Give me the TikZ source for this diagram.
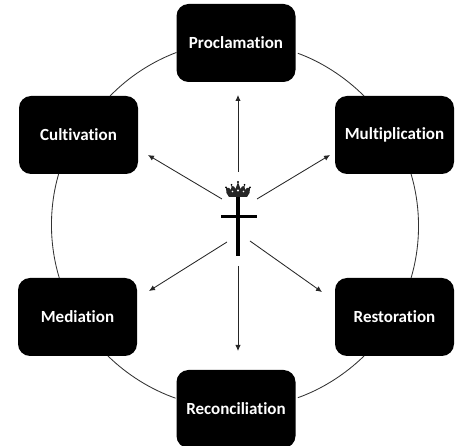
\documentclass[tikz,border=0pt]{standalone}
\usepackage{fontspec}
\setmainfont[Ligatures=NoCommon]{Carlito}
\usetikzlibrary{arrows.meta}
\tikzset{
  stage/.style={draw=none,fill=black,rounded corners=12pt,minimum width=119pt,minimum height=78pt,inner sep=0pt,outer sep=0pt,text=white,font=\bfseries\fontsize{17}{19}\selectfont},
  ring/.style={draw=black!80,line width=0.85pt,looseness=0.86},
  ray/.style={draw=black!85,line width=0.85pt,-{Latex[length=6pt,width=5.5pt]}}
}
\begin{document}
\begin{tikzpicture}[x=1pt,y=-1pt]
\useasboundingbox (0,0) rectangle (459,446);
\node[stage] (pro) at (236,43) {Proclamation};
\node[stage] (mul) at (394.5,135) {Multiplication};
\node[stage] (res) at (394.5,317) {Restoration};
\node[stage] (rec) at (236,409) {Reconciliation};
\node[stage] (med) at (77.5,317) {Mediation};
\node[stage] (cul) at (78.5,135) {Cultivation};
\draw[ring,shorten <=2.5pt] (pro.-9) to[bend left=12.5] (mul.128);
\draw[ring] (mul.-67) to[bend left=16.6] (res.67);
\draw[ring,shorten >=2.5pt] (res.232) to[bend left=12.5] (rec.10);
\draw[ring,shorten <=1pt] (rec.170) to[bend left=12.5] (med.-52);
\draw[ring] (med.115) to[bend left=16.6] (cul.-117);
\draw[ring] (cul.51) to[bend left=12.5] (pro.189);
\coordinate (sN) at (238,172); \coordinate (eN) at (238,95);
\coordinate (sNE) at (257,199); \coordinate (eNE) at (330,155);
\coordinate (sSE) at (250,241); \coordinate (eSE) at (322,292);
\coordinate (sS) at (238,266); \coordinate (eS) at (238,351);
\coordinate (sSW) at (227,242); \coordinate (eSW) at (149,291);
\coordinate (sNW) at (222,199); \coordinate (eNW) at (148,155);
\foreach \d in {N,NE,SE,S,SW,NW}{\draw[ray] (s\d) -- (e\d);}
% cross
\fill[black] (236.3,197) rectangle (239.9,256);
\fill[black] (221,214.6) rectangle (257,217.6);
% crown
\fill[black!85] (229,197) -- (226.5,193) -- (226,188) .. controls (228,187) and (230,188) .. (231,190) -- (231.5,186) .. controls (233.5,185.5) and (235,187) .. (235.5,189) -- (238,182) -- (240.5,189) .. controls (241,187) and (242.5,185.5) .. (244.5,186) -- (245,190) .. controls (246,188) and (248,187) .. (250,188) -- (249.5,193) -- (247,197) -- cycle;
\fill[black] (238,182) circle (1.2);
\fill[black] (226,187.5) circle (1);
\fill[black] (250,187.5) circle (1);
\fill[black] (231.5,185) circle (1);
\fill[black] (244.5,185) circle (1);
\fill[white] (238,190.5) circle (1.1);
\fill[white] (232.5,191.5) circle (0.9);
\fill[white] (243.5,191.5) circle (0.9);
\end{tikzpicture}
\end{document}
